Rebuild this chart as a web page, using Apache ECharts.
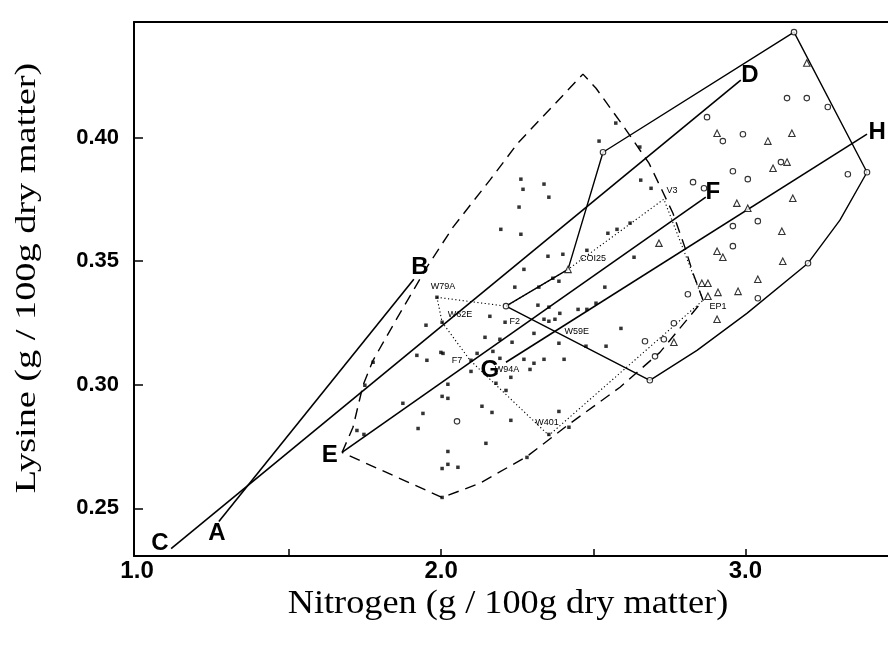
<!DOCTYPE html>
<html>
<head>
<meta charset="utf-8">
<script src="https://cdn.jsdelivr.net/npm/echarts@6/dist/echarts.min.js"></script>
<style>html,body{margin:0;padding:0;background:#fff}#c{width:888px;height:645px}</style>
</head>
<body>
<div id="c"></div>
<script>
// ---- data ----
const xTickValues = [1.5, 2.0, 2.5, 3.0];
const xLabelValues = [1.0, 2.0, 3.0];
const yTickValues = [0.25, 0.30, 0.35, 0.40];

const lineAB = [[1.269, 0.2447], [1.910, 0.3427]];
const lineCD = [[1.112, 0.2337], [2.985, 0.4233]];
const lineEF = [[1.674, 0.2726], [2.870, 0.3759]];
const lineGH = [[2.213, 0.3091], [3.400, 0.4014]];

const solidPolygon = [[2.213,0.3318],[2.417,0.3467],[2.532,0.3941],[3.160,0.4427],[3.400,0.3860],
  [3.311,0.3666],[3.206,0.3492],[3.005,0.3289],[2.841,0.3139],[2.686,0.3018],[2.213,0.3318]];

const dashedPolygon = [[1.674,0.2726],[1.710,0.2828],[1.743,0.2998],[1.776,0.3099],[1.851,0.3261],
  [1.953,0.3476],[2.039,0.3638],[2.160,0.3828],[2.252,0.3978],[2.466,0.4257],[2.509,0.4200],
  [2.601,0.4043],[2.683,0.3897],[2.726,0.3787],[2.762,0.3694],[2.801,0.3557],[2.828,0.3451],
  [2.861,0.3342],[2.719,0.3131],[2.588,0.2990],[2.420,0.2840],[2.282,0.2710],[2.127,0.2601],
  [2.003,0.2544],[1.674,0.2726]];

const dottedPolygon = [[1.986,0.3354],[2.213,0.3318],[2.417,0.3467],[2.732,0.3751],[2.861,0.3342],
  [2.354,0.2795],[2.095,0.3099],[2.003,0.3253],[1.986,0.3354]];

const dotPoints = [[2.262,0.3832],[2.269,0.3791],[2.338,0.3812],[2.354,0.3759],[2.256,0.3719],
  [2.196,0.3629],[2.262,0.3609],[2.351,0.3520],[2.400,0.3528],[2.272,0.3467],[2.242,0.3395],
  [2.321,0.3395],[2.367,0.3431],[2.387,0.3419],[2.574,0.4059],[2.519,0.3986],
  [2.653,0.3962],[2.656,0.3828],[2.690,0.3795],[2.621,0.3654],[2.578,0.3629],[2.548,0.3613],
  [2.479,0.3544],[2.634,0.3516],[2.538,0.3395],[2.318,0.3322],[2.354,0.3314],[2.450,0.3305],
  [2.479,0.3305],[2.509,0.3330],[2.160,0.3277],[2.210,0.3253],[2.354,0.3257],[2.374,0.3265],
  [2.390,0.3289],[2.144,0.3192],[2.193,0.3184],[2.305,0.3208],[2.233,0.3172],[2.170,0.3135],
  [2.338,0.3265],[2.193,0.3107],[2.272,0.3103],[2.305,0.3087],[2.338,0.3103],[2.387,0.3168],
  [2.404,0.3103],[2.476,0.3156],[2.542,0.3156],[2.591,0.3228],[1.986,0.3354],[2.003,0.3253],
  [1.950,0.3241],[1.999,0.3131],[1.920,0.3119],[1.953,0.3099],[2.098,0.3099],[2.118,0.3127],
  [2.098,0.3054],[2.022,0.3002],[2.003,0.2953],[2.022,0.2945],[1.874,0.2925],[1.940,0.2884],
  [1.924,0.2823],[2.134,0.2913],[2.167,0.2888],[2.180,0.3006],[2.213,0.2977],[2.229,0.3030],
  [2.292,0.3062],[2.387,0.2892],[2.229,0.2856],[2.147,0.2763],[2.022,0.2730],[2.003,0.2661],
  [2.022,0.2678],[2.055,0.2666],[2.282,0.2706],[2.420,0.2828],[2.354,0.2799],[2.003,0.2544],
  [1.723,0.2815],[1.746,0.2799],[1.749,0.2998],[1.776,0.3091],[2.006,0.3127]];

const circlePoints = [[2.052,0.2852],[2.828,0.3820],[2.864,0.3795],[2.811,0.3366],[2.765,0.3249],
  [2.670,0.3176],[2.732,0.3184],[2.703,0.3115],[2.959,0.3642],[3.041,0.3662],[2.959,0.3561],
  [3.041,0.3350],[3.137,0.4160],[3.202,0.4160],[3.271,0.4124],[2.874,0.4083],[2.926,0.3986],
  [2.992,0.4014],[3.117,0.3901],[2.959,0.3864],[3.008,0.3832],[3.337,0.3852],[3.206,0.3492],
  [2.532,0.3941],[2.213,0.3318],[2.686,0.3018],[3.160,0.4427],[3.400,0.3860]];

const trianglePoints = [[2.716,0.3573],[2.972,0.3735],[3.008,0.3714],[3.156,0.3755],[3.120,0.3621],
  [2.907,0.3540],[2.926,0.3516],[3.123,0.3500],[3.041,0.3427],[2.910,0.3374],[2.976,0.3378],
  [2.877,0.3358],[2.857,0.3411],[2.877,0.3411],[2.907,0.3265],[2.765,0.3172],[3.202,0.4302],
  [2.907,0.4018],[3.074,0.3986],[3.153,0.4018],[3.137,0.3901],[3.091,0.3876],[2.417,0.3467]];

const letterLabels = [['A',1.263,0.2398],['B',1.930,0.3476],['C',1.075,0.2358],['D',3.015,0.4253],
  ['E',1.634,0.2714],['F',2.893,0.3779],['G',2.160,0.3058],['H',3.433,0.4022]];

const pointLabels = [['W79A',2.006,0.3399],['W62E',2.062,0.3285],['F7',2.052,0.3099],['F2',2.242,0.3257],
  ['W59E',2.446,0.3216],['COI25',2.499,0.3512],['V3',2.759,0.3787],['EP1',2.910,0.3318],
  ['W401',2.348,0.2848],['W94A',2.216,0.3062]];

const xTitle = 'Nitrogen (g / 100g dry matter)';
const yTitle = 'Lysine (g / 100g dry matter)';

// ---- chart ----
const chart = echarts.init(document.getElementById('c'), null, {renderer: 'canvas'});
const X_MIN = 0.99, X_MAX = 3.469, Y_MIN = 0.2307, Y_MAX = 0.4468;

function lineSeries(data, type, width) {
  return {type: 'line', data: data, symbol: 'none', silent: true, animation: false,
    lineStyle: {color: '#000', width: width, type: type}, z: 2};
}
function pointSeries(data, symbol, size, filled) {
  return {type: 'scatter', data: data, symbol: symbol, symbolSize: size, silent: true, animation: false,
    itemStyle: filled ? {color: '#000'} : {color: '#fff', borderColor: '#000', borderWidth: 1.1}, z: 4};
}
function textSeries(list, font) {
  return {type: 'scatter', data: list.map(d => ({value: [d[1], d[2]], name: d[0]})), symbolSize: 1,
    silent: true, animation: false, itemStyle: {color: 'rgba(0,0,0,0)'}, z: 5,
    label: Object.assign({show: true, position: 'inside', formatter: p => p.name, color: '#000',
      textBorderWidth: 0, textBorderColor: 'transparent', opacity: 1}, font)};
}

chart.setOption({
  backgroundColor: '#fff',
  animation: false,
  grid: {left: 134, right: 0, top: 22, bottom: 89},
  xAxis: [{
    type: 'value', min: X_MIN, max: X_MAX, position: 'bottom',
    axisLine: {show: true, lineStyle: {color: '#000', width: 2}},
    axisTick: {show: true, inside: true, length: 7, customValues: xTickValues, lineStyle: {color: '#000', width: 1.5}},
    axisLabel: {show: true, customValues: xLabelValues, formatter: v => v.toFixed(1), margin: 3,
      color: '#000', fontFamily: 'Liberation Sans', fontWeight: 'bold', fontSize: 24},
    splitLine: {show: false}
  }, {
    type: 'value', min: X_MIN, max: X_MAX, position: 'top',
    axisLine: {show: true, lineStyle: {color: '#000', width: 2}},
    axisTick: {show: false}, axisLabel: {show: false}, splitLine: {show: false}
  }],
  yAxis: {
    type: 'value', min: Y_MIN, max: Y_MAX,
    axisLine: {show: true, lineStyle: {color: '#000', width: 2}},
    axisTick: {show: true, inside: true, length: 9, customValues: yTickValues, lineStyle: {color: '#000', width: 1.5}},
    axisLabel: {show: true, customValues: yTickValues, formatter: v => v.toFixed(2), margin: 15,
      color: '#000', fontFamily: 'Liberation Sans', fontWeight: 'bold', fontSize: 22},
    splitLine: {show: false}
  },
  graphic: [
    {type: 'text', x: 508, y: 604, scaleX: 1.1, style: {text: xTitle, fill: '#000', font: '33px "Liberation Serif"', align: 'center', verticalAlign: 'middle'}},
    {type: 'text', x: 27, y: 278, rotation: Math.PI / 2, scaleX: 1.32, style: {text: yTitle, fill: '#000', font: '29px "Liberation Serif"', align: 'center', verticalAlign: 'middle'}}
  ],
  series: [
    lineSeries(lineAB, 'solid', 1.6),
    lineSeries(lineCD, 'solid', 1.6),
    lineSeries(lineEF, 'solid', 1.6),
    lineSeries(lineGH, 'solid', 1.6),
    lineSeries(solidPolygon, 'solid', 1.4),
    lineSeries(dashedPolygon, [11, 7], 1.4),
    lineSeries(dottedPolygon, [1.2, 2.5], 1.1),
    pointSeries(dotPoints, 'rect', 3.5, true),
    pointSeries(circlePoints, 'circle', 5.5, false),
    pointSeries(trianglePoints, 'triangle', 6.5, false),
    textSeries(letterLabels, {fontFamily: 'Liberation Sans', fontWeight: 'bold', fontSize: 24}),
    textSeries(pointLabels, {fontFamily: 'Liberation Sans', fontSize: 9})
  ]
});
</script>
</body>
</html>
